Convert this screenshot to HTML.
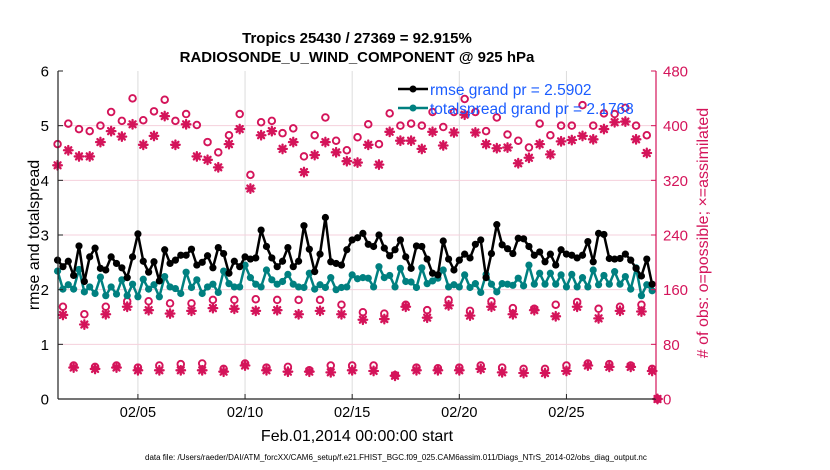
<!DOCTYPE html>
<html><head><meta charset="utf-8"><style>
body{margin:0;background:#fff;}
svg{display:block;font-family:"Liberation Sans",sans-serif;}
</style></head><body>
<svg id="chart" width="830" height="470" viewBox="0 0 830 470">
<g id="grid"></g>
<g id="obs"></g>
<g id="lines"></g>
<g id="axes"></g>
<text x="357" y="43" text-anchor="middle" font-size="15" font-weight="bold">Tropics 25430 / 27369 = 92.915%</text>
<text x="357" y="62" text-anchor="middle" font-size="15" font-weight="bold">RADIOSONDE_U_WIND_COMPONENT @ 925 hPa</text>
<text x="357" y="441" text-anchor="middle" font-size="16">Feb.01,2014 00:00:00 start</text>
<text transform="translate(39,235) rotate(-90)" text-anchor="middle" font-size="16">rmse and totalspread</text>
<text transform="translate(708,233) rotate(-90)" text-anchor="middle" font-size="16" fill="#d4145a"># of obs: o=possible; ×=assimilated</text>
<text x="145" y="460" font-size="8">data file: /Users/raeder/DAI/ATM_forcXX/CAM6_setup/f.e21.FHIST_BGC.f09_025.CAM6assim.011/Diags_NTrS_2014-02/obs_diag_output.nc</text>
<g>
<line x1="398" y1="89" x2="428" y2="89" stroke="#000" stroke-width="2.5"/>
<circle cx="413" cy="89" r="3.5" fill="#000"/>
<text x="430" y="95" font-size="15.5" fill="#1a5cff">rmse grand pr = 2.5902</text>
<line x1="398" y1="108" x2="428" y2="108" stroke="#008080" stroke-width="2.5"/>
<circle cx="413" cy="108" r="3.5" fill="#008080"/>
<text x="430" y="114" font-size="15.5" fill="#1a5cff">totalspread grand pr = 2.1768</text>
</g>
</svg>
<script>
const rmse=[2.54,2.42,2.52,2.26,2.80,2.15,2.60,2.76,2.39,2.36,2.60,2.48,2.40,2.22,2.60,3.02,2.52,2.32,2.51,2.16,2.73,2.48,2.54,2.63,2.63,2.74,2.45,2.50,
2.62,2.40,2.77,2.66,2.30,2.52,2.42,2.60,2.56,2.58,3.09,2.79,2.58,2.42,2.52,2.77,2.42,2.52,3.17,2.74,2.33,2.65,3.32,2.51,2.48,2.45,2.73,2.91,
2.95,3.03,2.83,2.79,3.00,2.76,2.62,2.73,2.91,2.60,2.39,2.80,2.79,2.56,2.30,2.27,2.89,2.56,2.36,2.54,2.65,2.58,2.83,2.91,2.22,2.66,3.19,2.82,
2.75,2.66,2.94,2.93,2.79,2.63,2.69,2.51,2.65,2.45,2.73,2.65,2.63,2.58,2.63,2.88,2.51,3.03,3.01,2.57,2.56,2.57,2.65,2.54,2.39,2.25,2.56,2.10];
const spread=[2.34,2.01,2.09,2.01,2.37,1.96,2.05,1.93,2.23,1.89,2.05,1.92,2.18,1.89,2.10,1.87,2.19,2.01,2.09,1.87,2.24,2.05,2.02,1.93,2.32,2.04,2.18,1.93,
2.05,2.10,1.95,2.34,2.11,2.05,2.05,2.45,2.22,2.10,2.05,2.36,2.18,2.10,2.15,2.28,2.10,2.05,2.04,2.30,2.01,2.09,2.04,2.22,2.00,2.04,2.05,2.27,
2.20,2.22,2.21,2.05,2.42,2.22,2.26,2.05,2.39,2.15,2.14,2.04,2.40,2.11,2.16,2.21,2.36,2.05,2.09,2.05,2.27,2.04,2.11,1.95,2.28,2.10,1.96,2.11,
2.10,2.08,2.21,2.07,2.45,2.10,2.30,2.10,2.30,2.10,2.27,2.05,2.28,2.05,2.22,2.05,2.36,2.09,2.26,2.10,2.33,2.10,2.24,2.01,2.40,1.89,2.09,1.98];
const possible=[373,135,403,49,395,124,392,47,400,135,420,49,407,143,440,46,408,143,421,49,438,140,407,51,417,140,401,52,376,145,361,44,
386,145,417,52,328,146,405,46,407,145,389,47,396,145,355,42,386,145,412,49,378,138,364,49,383,127,402,49,373,125,418,35,
400,138,403,46,400,130,420,45,398,145,420,46,439,129,420,49,392,143,412,46,387,133,378,44,368,132,403,44,386,138,400,49,
400,142,430,52,400,132,418,51,417,135,426,49,400,138,386,44,0];
const assimilated=[342,123,364,46,355,109,355,44,376,124,392,46,384,135,402,42,372,130,385,42,414,125,372,42,402,129,355,42,350,133,339,40,
373,132,395,49,308,129,386,42,392,130,366,40,376,124,332,40,357,129,376,39,361,124,348,42,346,116,372,41,343,117,391,34,
378,135,378,42,366,119,391,42,371,137,390,42,416,122,390,44,373,135,367,39,368,124,345,38,353,130,373,38,358,121,377,41,
379,135,385,49,380,118,395,47,405,129,406,47,380,128,360,41,0];
const leftTicks=[0,1,2,3,4,5,6];
const rightTicks=[0,80,160,240,320,400,480];
const dateTicks=[4,9,14,19,24];
const dateLabels=["02/05","02/10","02/15","02/20","02/25"];

const X0=58,X1=656,Y0=399,Y1=71;
const T0=0.27,T1=28.18;
const xs=t=>X0+(t-T0)/(T1-T0)*(X1-X0);
const yL=v=>Y0-(v/6)*(Y0-Y1);
const yR=v=>Y0-(v/480)*(Y0-Y1);
const tAt=i=>0.25+0.25*i;
const NS="http://www.w3.org/2000/svg";
function mk(tag,attrs,parent){const e=document.createElementNS(NS,tag);for(const k in attrs)e.setAttribute(k,attrs[k]);parent.appendChild(e);return e;}
const grid=document.getElementById('grid'),axes=document.getElementById('axes'),obs=document.getElementById('obs'),lines=document.getElementById('lines');

dateTicks.forEach((d,i)=>{
  const x=xs(d);
  const g=mk('line',{x1:x,y1:Y1,x2:x,y2:Y0,stroke:'#dcdcdc','stroke-width':1},grid);
  
  
  const tk=mk('line',{x1:x,y1:Y0,x2:x,y2:Y0-5,stroke:'#222','stroke-width':1},axes);
  
  
  const t=mk('text',{x:x,y:Y0+18,'text-anchor':'middle','font-size':14.5},axes);
  t.textContent=dateLabels[i];
  
  
});
rightTicks.forEach(v=>{
  const y=yR(v);
  if(v>0&&v<480){
    const g=mk('line',{x1:X0,y1:y,x2:X1,y2:y,stroke:'#f5d0dc','stroke-width':1},grid);
    
    
  }
  const tk=mk('line',{x1:X1-5,y1:y,x2:X1,y2:y,stroke:'#d4145a','stroke-width':1},axes);
  
  
  const t=mk('text',{x:X1+7,y:y+5.5,'font-size':15,fill:'#d4145a'},axes);
  t.textContent=v;
  
  
});
leftTicks.forEach(v=>{
  const y=yL(v);
  const tk=mk('line',{x1:X0,y1:y,x2:X0+5,y2:y,stroke:'#222','stroke-width':1},axes);
  
  
  const t=mk('text',{x:X0-9,y:y+5.5,'text-anchor':'end','font-size':15},axes);
  t.textContent=v;
  
  
});
const la=mk('line',{x1:X0,y1:Y1,x2:X0,y2:Y0,stroke:'#222','stroke-width':1.2},axes);


const ba=mk('line',{x1:X0,y1:Y0,x2:X1,y2:Y0,stroke:'#222','stroke-width':1.2},axes);


const ra=mk('line',{x1:X1,y1:Y1,x2:X1,y2:Y0,stroke:'#d4145a','stroke-width':1.2},axes);



const C='#d4145a';
assimilated.forEach((v,i)=>{
  const x=xs(tAt(i)),y=yR(v),r=4.3;
  const g=mk('g',{stroke:C,'stroke-width':2.3,'stroke-linecap':'round'},obs);
  
  
  mk('line',{x1:x-r,y1:y,x2:x+r,y2:y},g);
  mk('line',{x1:x,y1:y-r,x2:x,y2:y+r},g);
  mk('line',{x1:x-r*0.7,y1:y-r*0.7,x2:x+r*0.7,y2:y+r*0.7},g);
  mk('line',{x1:x-r*0.7,y1:y+r*0.7,x2:x+r*0.7,y2:y-r*0.7},g);
});
possible.forEach((v,i)=>{
  const c=mk('circle',{cx:xs(tAt(i)),cy:yR(v),r:3.3,fill:'none',stroke:C,'stroke-width':1.9},obs);
  
  
});
function series(arr,color,name){
  const pts=arr.map((v,i)=>xs(tAt(i)).toFixed(1)+','+yL(v).toFixed(1)).join(' ');
  const p=mk('polyline',{points:pts,fill:'none',stroke:color,'stroke-width':2.5,'stroke-linejoin':'round'},lines);
  
  
  arr.forEach((v,i)=>{
    const c=mk('circle',{cx:xs(tAt(i)),cy:yL(v),r:3.6,fill:color},lines);
    
    
  });
}
series(spread,'#008080','spread');
series(rmse,'#000000','rmse');
</script>
</body></html>
